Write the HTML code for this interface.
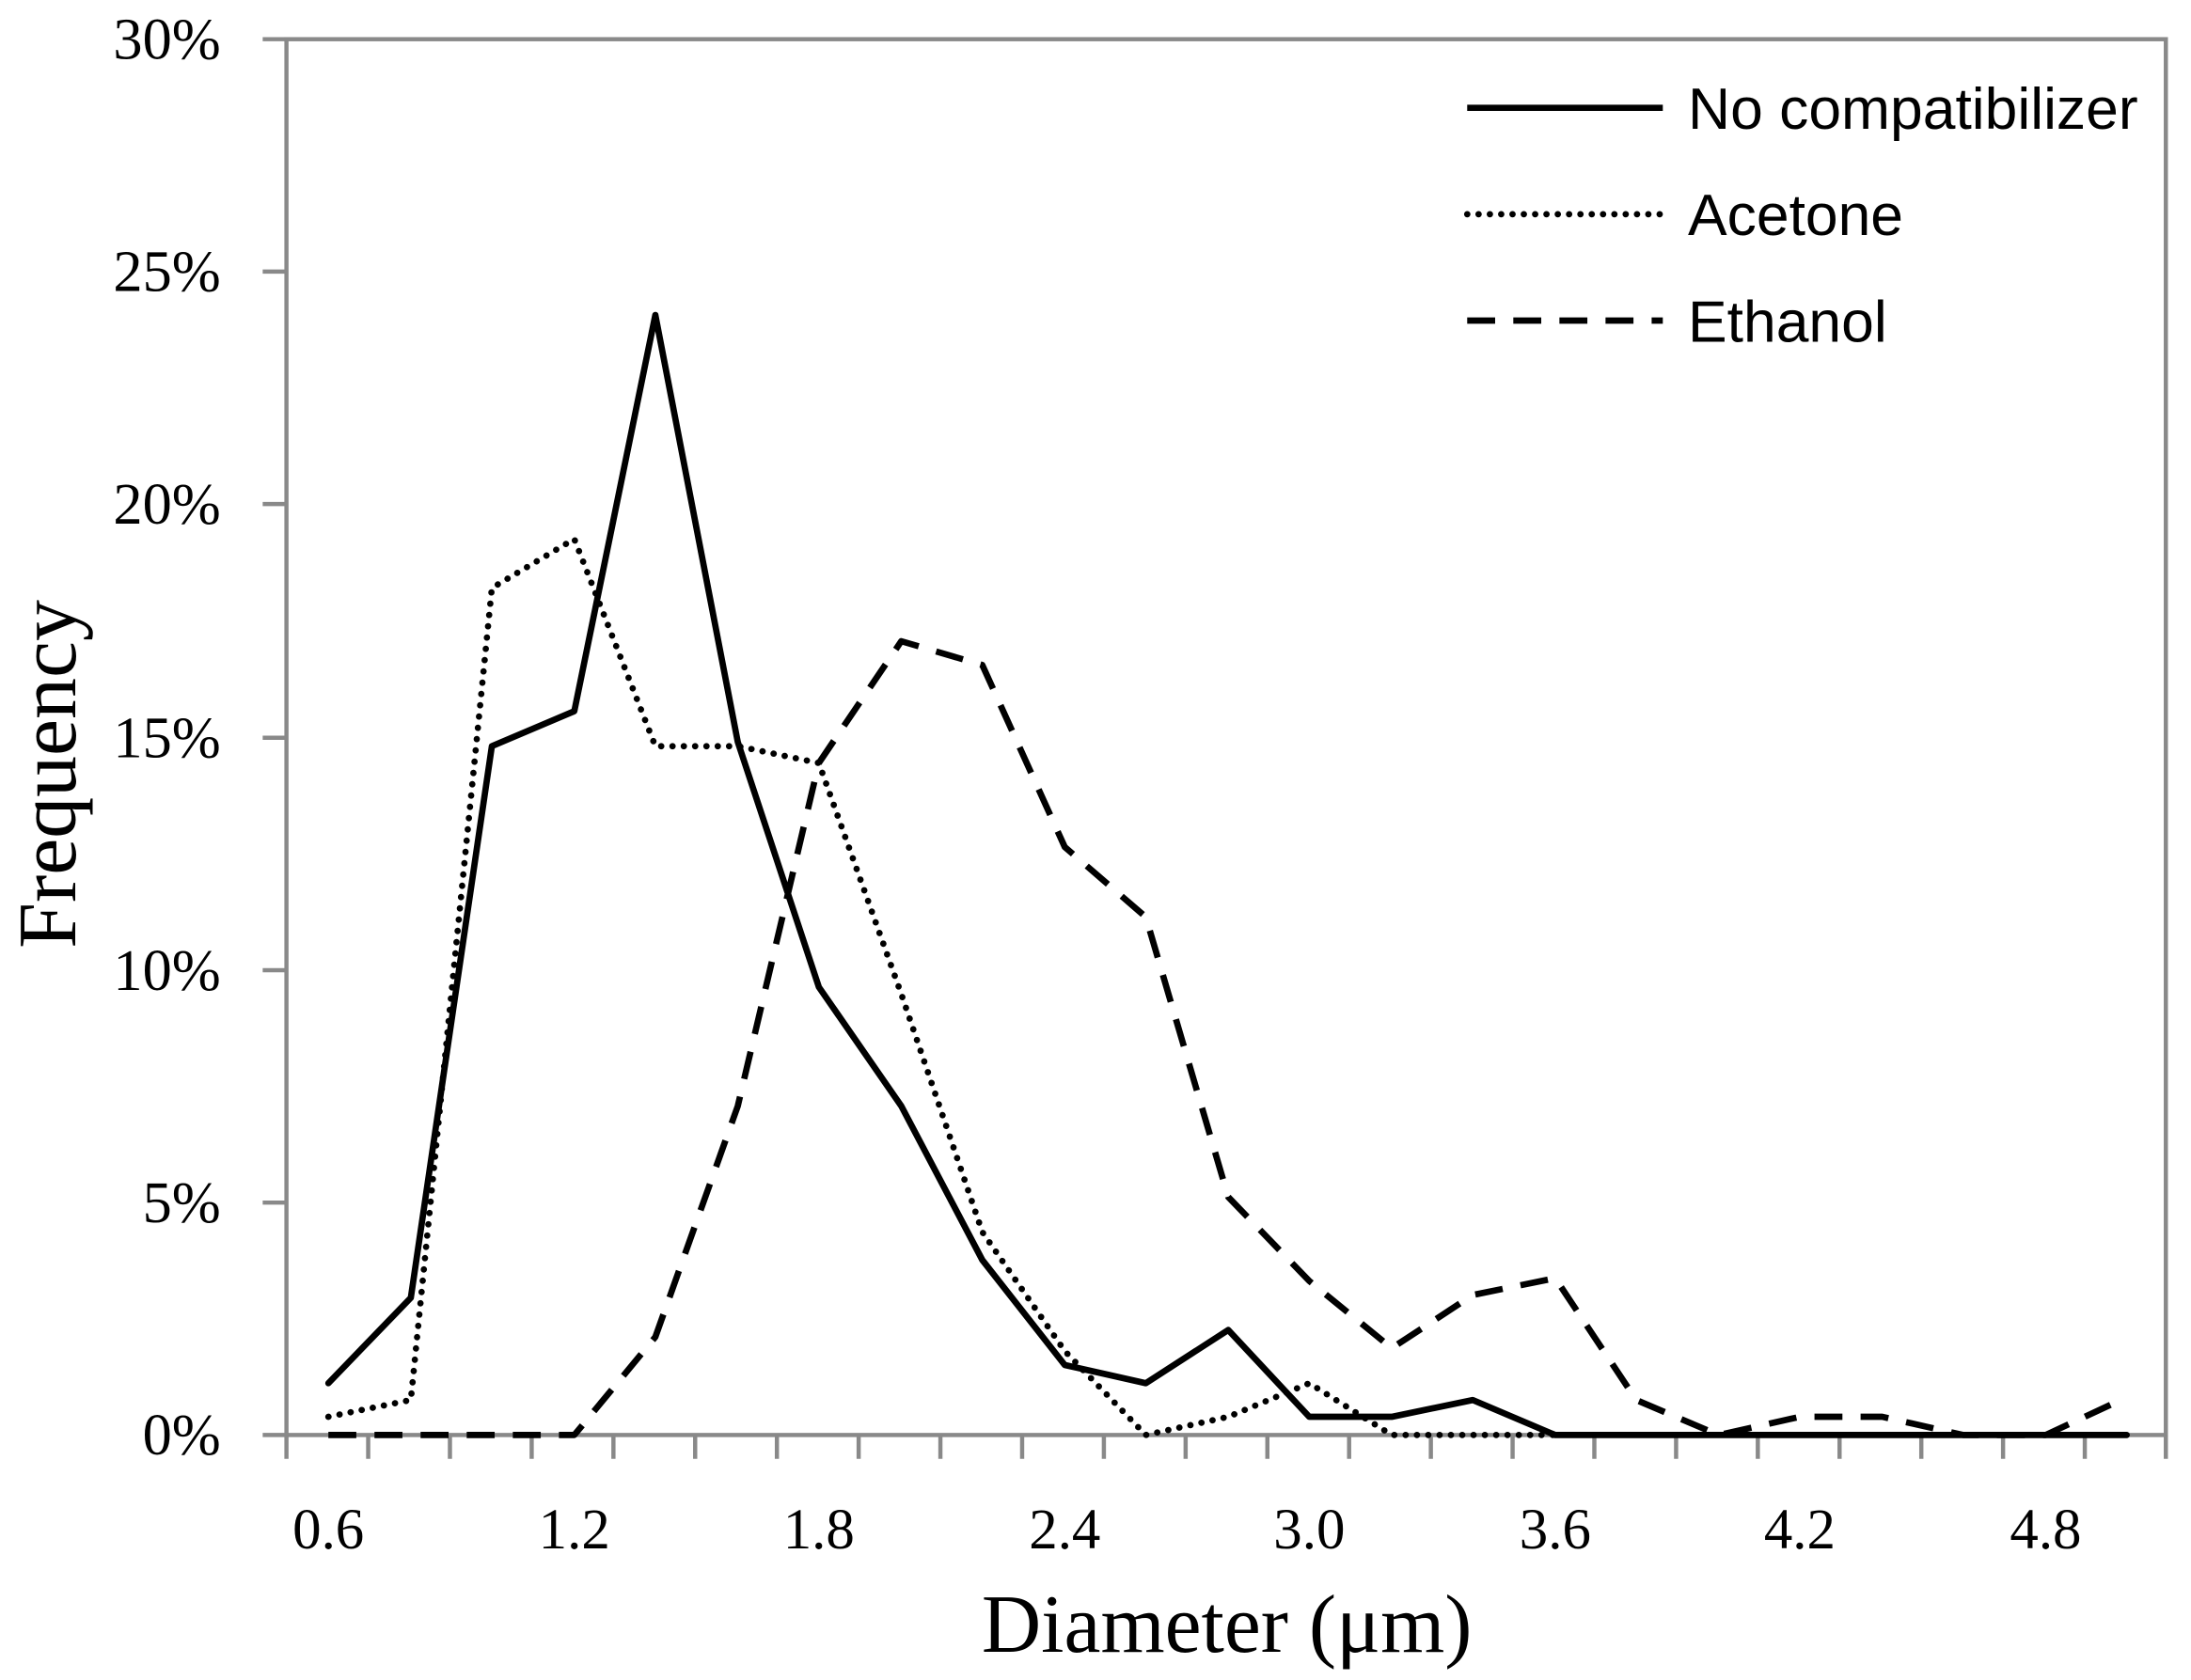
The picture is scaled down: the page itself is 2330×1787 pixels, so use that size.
<!DOCTYPE html>
<html><head><meta charset="utf-8"><style>html,body{margin:0;padding:0;background:#fff}svg{display:block}</style></head>
<body>
<svg width="2330" height="1787" viewBox="0 0 1568 1200" preserveAspectRatio="none" xmlns="http://www.w3.org/2000/svg">
<rect width="1568" height="1200" fill="#fff"/>
<g stroke="#898989" stroke-width="3" fill="none">
<rect x="205" y="28" width="1345" height="997"/>
<path d="M188 28H205M188 194H205M188 360H205M188 527H205M188 693H205M188 859H205M188 1025H205"/>
<path d="M205 1025V1042M263.5 1025V1042M322 1025V1042M380.5 1025V1042M439 1025V1042M497.5 1025V1042M556 1025V1042M614.5 1025V1042M673 1025V1042M731.5 1025V1042M790 1025V1042M848.5 1025V1042M907 1025V1042M965.5 1025V1042M1024 1025V1042M1082.5 1025V1042M1141 1025V1042M1199.5 1025V1042M1258 1025V1042M1316.5 1025V1042M1375 1025V1042M1433.5 1025V1042M1492 1025V1042M1550 1025V1042"/>
</g>
<g font-family="Liberation Serif, serif" font-size="42" fill="#000" text-anchor="end">
<text x="158" y="42">30%</text><text x="158" y="208">25%</text><text x="158" y="374">20%</text><text x="158" y="541">15%</text><text x="158" y="707">10%</text><text x="158" y="873">5%</text><text x="158" y="1039">0%</text>
</g>
<g font-family="Liberation Serif, serif" font-size="41" fill="#000" text-anchor="middle">
<text x="235" y="1106">0.6</text><text x="411" y="1106">1.2</text><text x="586" y="1106">1.8</text><text x="762" y="1106">2.4</text><text x="937" y="1106">3.0</text><text x="1113" y="1106">3.6</text><text x="1288" y="1106">4.2</text><text x="1464" y="1106">4.8</text>
</g>
<text x="878" y="1180" font-family="Liberation Serif, serif" font-size="59" text-anchor="middle">Diameter (μm)</text>
<text transform="translate(54 553) rotate(-90)" font-family="Liberation Serif, serif" font-size="59" text-anchor="middle">Frequency</text>
<g fill="none" stroke="#000" stroke-width="4.5" stroke-linejoin="round">
<polyline stroke-dasharray="20 13" points="235,1025 294,1025 352,1025 411,1025 469,955 528,790 586,545 645,458 703,475 762,605 820,655 879,855 937,915 996,963 1054,925 1113,913 1171,1000 1230,1025 1288,1012 1347,1012 1405,1025 1464,1025 1522,998"/>
<polyline stroke-dasharray="0.1 8" stroke-linecap="round" points="235,1012 294,1000 352,420 411,385 469,533 528,533 586,545 645,710 703,880 762,965 820,1025 879,1012 937,988 996,1025 1054,1025 1113,1025"/>
<polyline stroke-linecap="round" points="235,988 294,927 352,533 411,508 469,225 528,530 586,705 645,790 703,900 762,975 820,988 879,950 937,1012 996,1012 1054,1000 1113,1025 1171,1025 1230,1025 1288,1025 1347,1025 1405,1025 1464,1025 1522,1025"/>
<line x1="1050" y1="77" x2="1190" y2="77"/>
<line x1="1050" y1="153" x2="1190" y2="153" stroke-dasharray="0.1 8" stroke-linecap="round"/>
<line x1="1050" y1="229" x2="1190" y2="229" stroke-dasharray="20 13"/>
</g>
<g font-family="Liberation Sans, sans-serif" font-size="42" fill="#000">
<text x="1208" y="92">No compatibilizer</text><text x="1208" y="168">Acetone</text><text x="1208" y="244">Ethanol</text>
</g>
</svg>
</body></html>
